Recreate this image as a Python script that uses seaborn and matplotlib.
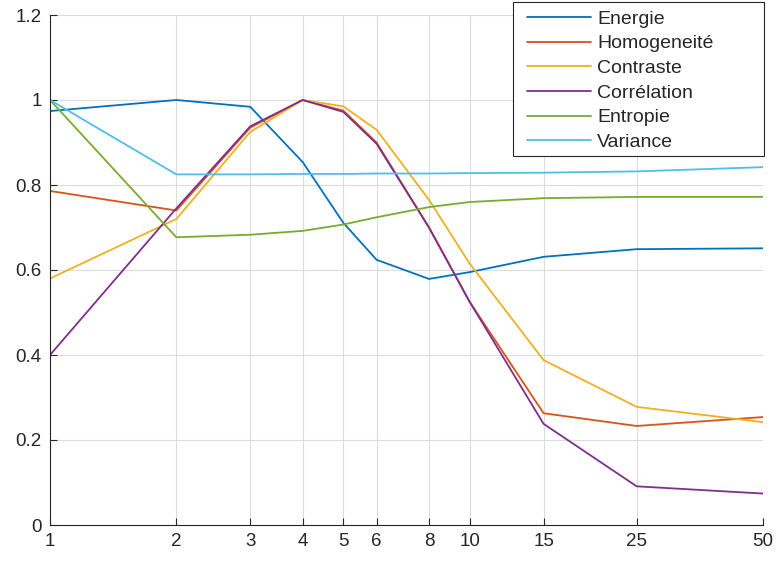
import numpy as np
import pandas as pd
import matplotlib
matplotlib.use("Agg")
import matplotlib.pyplot as plt
from matplotlib.patches import Rectangle
import seaborn as sns

x_vals = [1, 2, 3, 4, 5, 6, 8, 10, 15, 25, 50]
energie = [0.974, 1.0, 0.984, 0.854, 0.711, 0.624, 0.579, 0.595, 0.631, 0.649, 0.651]
homogeneite = [0.786, 0.740, 0.935, 1.0, 0.975, 0.900, 0.700, 0.525, 0.263, 0.233, 0.254]
contraste = [0.580, 0.720, 0.925, 1.0, 0.985, 0.930, 0.765, 0.615, 0.388, 0.278, 0.242]
correlation = [0.400, 0.745, 0.938, 1.0, 0.972, 0.897, 0.700, 0.525, 0.238, 0.091, 0.074]
entropie = [1.0, 0.677, 0.683, 0.692, 0.707, 0.724, 0.748, 0.760, 0.769, 0.772, 0.772]
variance = [1.0, 0.825, 0.825, 0.826, 0.826, 0.827, 0.827, 0.828, 0.829, 0.832, 0.842]

names = ["Energie", "Homogeneité", "Contraste", "Corrélation", "Entropie", "Variance"]
series = [energie, homogeneite, contraste, correlation, entropie, variance]
colors = ["#0072BD", "#D95319", "#EDB120", "#7E2F8E", "#77AC30", "#4DBEEE"]

df = pd.concat([pd.DataFrame({"x": x_vals, "y": s, "serie": n}) for n, s in zip(names, series)],
               ignore_index=True)

sns.set_theme(style="white")
plt.rcParams['font.family'] = ['Liberation Sans', 'DejaVu Sans']

W, H = 777, 563
fig = plt.figure(figsize=(W/100, H/100), dpi=100)
ax = fig.add_axes([50/W, 1 - 525/H, (763-50)/W, (525-15)/H])

sns.lineplot(data=df, x="x", y="y", hue="serie", hue_order=names, palette=colors,
             linewidth=1.3, ax=ax, legend=True, sort=False)

ax.set_xscale("log")
ax.set_xlim(1, 50)
ax.set_ylim(0, 1.2)
ax.set_xticks(x_vals)
ax.set_xticklabels([str(v) for v in x_vals])
ax.xaxis.set_minor_locator(matplotlib.ticker.NullLocator())
yt = [0, 0.2, 0.4, 0.6, 0.8, 1.0, 1.2]
ax.set_yticks(yt)
ax.set_yticklabels(["0", "0.2", "0.4", "0.6", "0.8", "1", "1.2"])
ax.grid(True, color="#dcdcdc", linewidth=0.8)
ax.set_xlabel("")
ax.set_ylabel("")
for s in ["top", "right"]:
    ax.spines[s].set_visible(False)
for s in ["left", "bottom"]:
    ax.spines[s].set_color("#262626")
    ax.spines[s].set_linewidth(0.8)
ax.tick_params(axis="both", direction="in", length=5, width=0.8, color="#262626",
               labelsize=13.5, labelcolor="#262626", pad=6, bottom=True, left=True)

# legend frame drawn as a rectangle in figure pixels (behind the legend entries)
frame = Rectangle((513/W, 1 - 156/H), (764-513)/W, (156-2)/H, transform=fig.transFigure,
                  facecolor="white", edgecolor="#262626", linewidth=0.8, zorder=4.5,
                  clip_on=False)
ax.add_patch(frame)

handles, labels = ax.get_legend_handles_labels()
leg = ax.legend(handles, labels, loc="upper left", bbox_to_anchor=(527/W, 1 - 10/H),
                bbox_transform=fig.transFigure, fontsize=14, frameon=False,
                handlelength=3.3, handletextpad=0.3, labelspacing=0.365,
                borderpad=0.0, borderaxespad=0)
leg.set_zorder(6)

fig.savefig("out.png", dpi=100)
